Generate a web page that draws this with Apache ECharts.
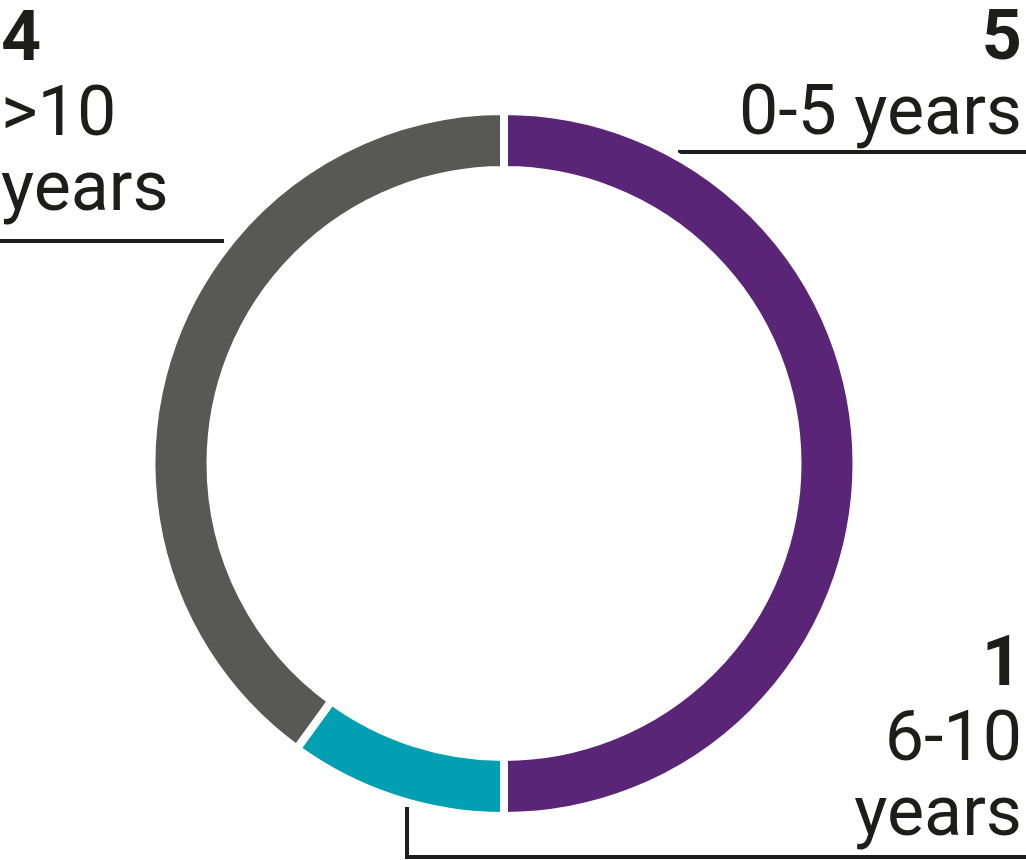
<!DOCTYPE html>
<html>
<head>
<meta charset="utf-8">
<script src="https://cdn.jsdelivr.net/npm/echarts@6/dist/echarts.min.js"></script>
<style>
  html, body { margin: 0; padding: 0; background: #ffffff; }
  #chart { width: 1026px; height: 860px; }
</style>
</head>
<body>
<div id="chart"></div>
<script>
// Data
const categories = ['0-5 years', '6-10 years', '>10 years'];
const values = [5, 1, 4];
const categoryLabelLines = [['0-5 years'], ['6-10', 'years'], ['>10', 'years']];

// Styles
const colors = ['#5b2577', '#009fb2', '#585857'];
const textColor = '#1d1d1b';

const labelPlacement = [
  { x: 1022, y: 4, align: 'right', line: [[678, 152], [852, 152], [1026, 152]] },
  { x: 1022, y: 630, align: 'right', line: [[407, 807], [407, 857], [1026, 857]] },
  { x: 1, y: 5, align: 'left', line: [[0, 241], [112, 241], [224, 241]] }
];

const chart = echarts.init(document.getElementById('chart'), null, { renderer: 'canvas' });

chart.setOption({
  backgroundColor: '#ffffff',
  animation: false,
  series: [{
    type: 'pie',
    center: [504, 463.5],
    radius: [293.5, 352.5],
    startAngle: 90,
    clockwise: true,
    avoidLabelOverlap: false,
    data: categories.map((c, i) => ({
      name: c,
      value: values[i],
      itemStyle: { color: colors[i] }
    })),
    itemStyle: { borderColor: '#ffffff', borderWidth: 8 },
    emphasis: { disabled: true },
    label: {
      show: true,
      position: 'outside',
      formatter: (p) => {
        const lines = categoryLabelLines[p.dataIndex];
        return ['{v|' + p.value + '}'].concat(lines.map(l => '{t|' + l + '}')).join('\n');
      },
      rich: {
        v: { fontFamily: 'Roboto', fontWeight: 700, fontSize: 70, lineHeight: 75, color: textColor },
        t: { fontFamily: 'Roboto', fontWeight: 400, fontSize: 70, lineHeight: 75, color: textColor }
      }
    },
    labelLine: {
      show: true,
      smooth: false,
      length: 10,
      length2: 10,
      lineStyle: { color: textColor, width: 4 }
    },
    labelLayout: (params) => {
      const lp = labelPlacement[params.dataIndex];
      return {
        x: lp.x,
        y: lp.y,
        align: lp.align,
        verticalAlign: 'top',
        labelLinePoints: lp.line
      };
    }
  }]
});
</script>
</body>
</html>
